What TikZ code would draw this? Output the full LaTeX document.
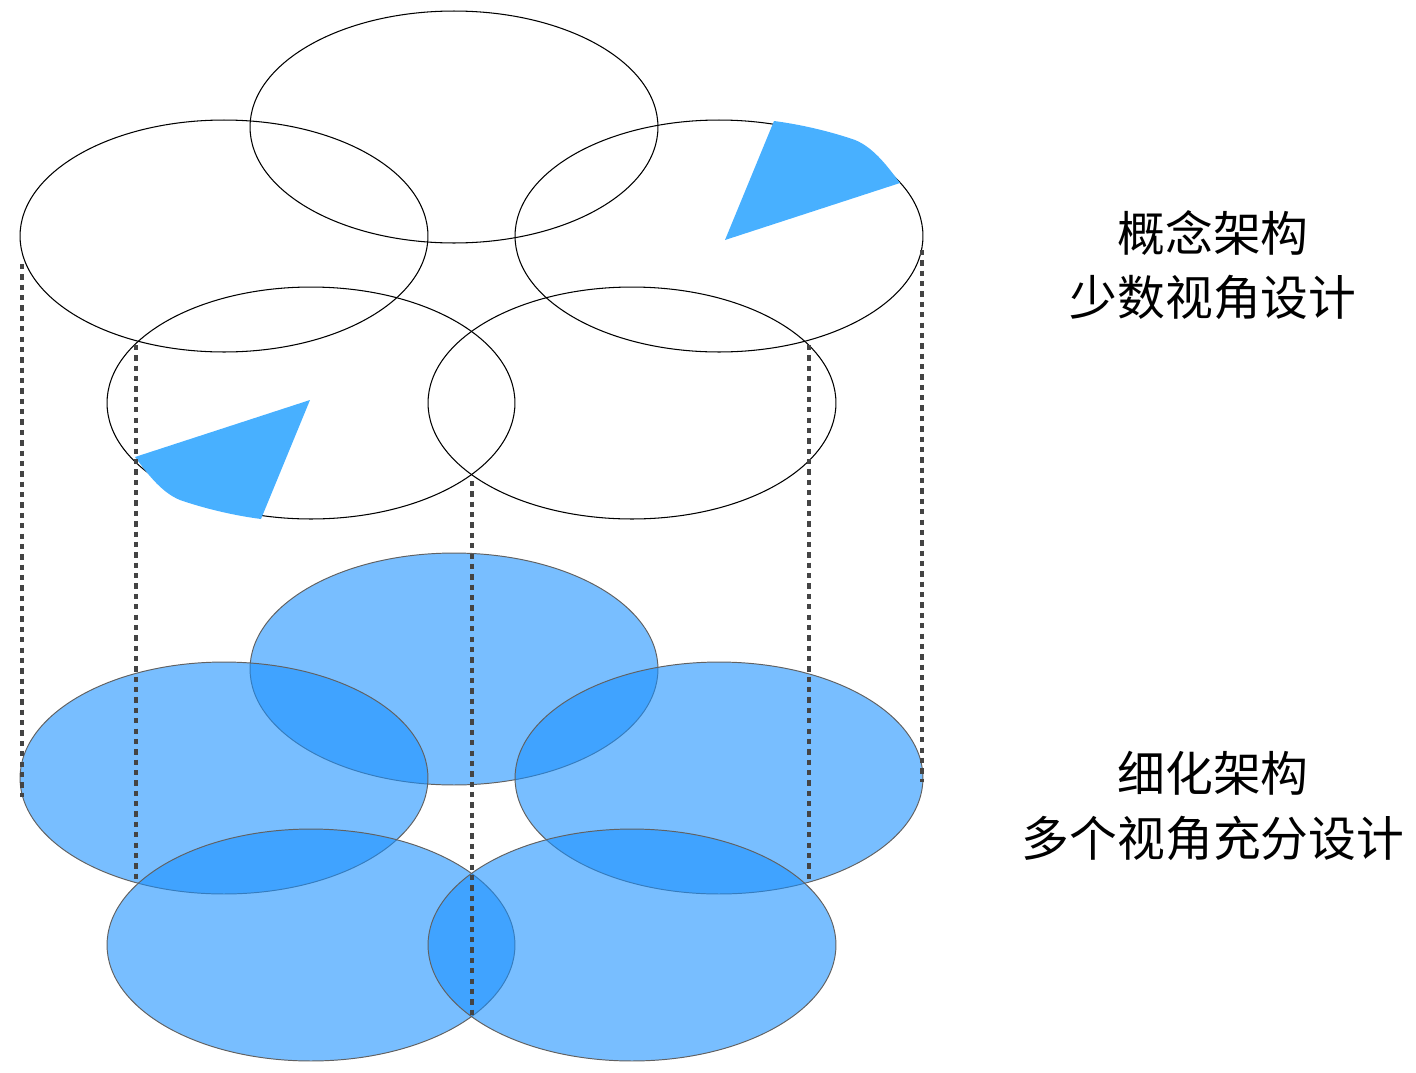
\documentclass[tikz,border=0pt]{standalone}
\usepackage{fontspec}
\newfontfamily\cjk{Noto Sans CJK SC}
\usetikzlibrary{shapes.geometric}
\definecolor{wedgeblue}{RGB}{72,176,255}
\definecolor{fillblue}{RGB}{24,144,255}
\definecolor{dashgray}{RGB}{68,68,68}
\tikzset{
  topell/.style={ellipse, draw=black, line width=0.6pt, minimum width=8.16cm, minimum height=4.64cm, inner sep=0pt, outer sep=0pt},
  botell/.style={ellipse, draw=black!62, line width=0.55pt, fill=fillblue, fill opacity=0.585, minimum width=8.16cm, minimum height=4.64cm, inner sep=0pt, outer sep=0pt},
  guide/.style={draw=dashgray, line width=1.9pt, dash pattern=on 3pt off 2.9pt},
  wedge/.style={fill=wedgeblue, draw=none},
  label/.style={font=\cjk\fontsize{27.2}{36.8}\selectfont, align=center, inner sep=0pt}
}
\begin{document}
\begin{tikzpicture}[x=0.02cm,y=-0.02cm]
\useasboundingbox (0,0) rectangle (1416,1072);
% top (concept) layer
\node[topell] (tc) at (454,127) {};
\node[topell] (tl) at (224,236) {};
\node[topell] (tr) at (719,236) {};
\node[topell] (tbl) at (311,403) {};
\node[topell] (tbr) at (632,403) {};
% wedges
\fill[wedge] (725,240) -- (774,121) .. controls (805,125) and (835,133) .. (855,140)
  .. controls (875,148) and (890,170) .. (900,183) -- cycle;
\fill[wedge] (310,400) -- (261,519) .. controls (230,515) and (200,507) .. (180,500)
  .. controls (160,492) and (145,470) .. (135,457) -- cycle;
% bottom (refined) layer
\node[botell] (bc) at (454,669) {};
\node[botell] (bl) at (224,778) {};
\node[botell] (br) at (719,778) {};
\node[botell] (bbl) at (311,945) {};
\node[botell] (bbr) at (632,945) {};
% guide line end points
\coordinate (g1a) at (22,264);  \coordinate (g1b) at (22,797);
\coordinate (g2a) at (136,345); \coordinate (g2b) at (136,879);
\coordinate (g3a) at (472,481); \coordinate (g3b) at (472,1015);
\coordinate (g4a) at (809,345); \coordinate (g4b) at (809,879);
\coordinate (g5a) at (922,250); \coordinate (g5b) at (922,782);
\draw[guide] (g1a) -- (g1b);
\draw[guide] (g2a) -- (g2b);
\draw[guide] (g3a) -- (g3b);
\draw[guide] (g4a) -- (g4b);
\draw[guide] (g5a) -- (g5b);
% labels
\node[label] (lab1) at (1213,265) {概念架构\\少数视角设计};
\node[label] (lab2) at (1213,806) {细化架构\\多个视角充分设计};
\end{tikzpicture}
\end{document}
